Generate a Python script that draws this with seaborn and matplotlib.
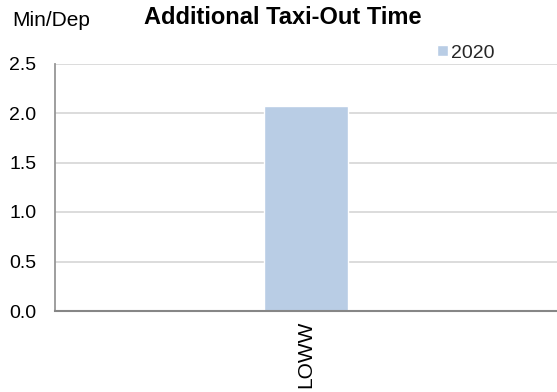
import matplotlib
matplotlib.use("Agg")
import matplotlib.pyplot as plt
import seaborn as sns
import pandas as pd

categories = ["LOWW"]
years = ["2020"]
values = [2.07]

df = pd.DataFrame({"airport": categories, "year": years, "value": values})

sns.set_theme(style="white")
plt.rcParams['font.family'] = ['Liberation Sans', 'DejaVu Sans']

fig = plt.figure(figsize=(5.57, 3.92), dpi=100)
ax = fig.add_axes([55/557, 81/392, 1 - 55/557, (311 - 63.5)/392])

sns.barplot(data=df, x="airport", y="value", hue="year", palette=["#B9CDE5"],
            width=0.167, ax=ax, legend=True, saturation=1)

ax.set_xlim(-0.5, 0.5)
ax.set_ylim(0, 2.5)
ax.set_yticks([0, 0.5, 1.0, 1.5, 2.0, 2.5])
ax.set_yticklabels(["0.0", "0.5", "1.0", "1.5", "2.0", "2.5"])
ax.yaxis.grid(True, color="#D9D9D9", linewidth=1.3)
ax.set_axisbelow(True)
ax.tick_params(axis="y", length=0, pad=13.5, labelsize=14, labelcolor="black")
ax.tick_params(axis="x", length=0, pad=7, labelsize=15, labelcolor="black", labelrotation=90)
ax.set_xlabel("")
ax.set_ylabel("")

for s in ["top", "right"]:
    ax.spines[s].set_visible(False)
ax.spines["left"].set_color("#969696")
ax.spines["left"].set_linewidth(1.3)
ax.spines["bottom"].set_color("#868686")
ax.spines["bottom"].set_linewidth(1.5)

fig.text(12/557, 1 - 21/392, "Min/Dep", fontsize=15, va="center", ha="left", color="black")
fig.text(283/557, 1 - 18/392, "Additional Taxi-Out Time", fontsize=17, fontweight="bold",
         va="center", ha="center", color="black")

leg = ax.legend(loc="center left", bbox_to_anchor=(437/557, 1 - 53/392), bbox_transform=fig.transFigure,
                frameon=False, fontsize=14, handlelength=0.55, handleheight=0.55, handletextpad=0.15,
                borderpad=0, borderaxespad=0)

fig.savefig("out.png", dpi=100)
